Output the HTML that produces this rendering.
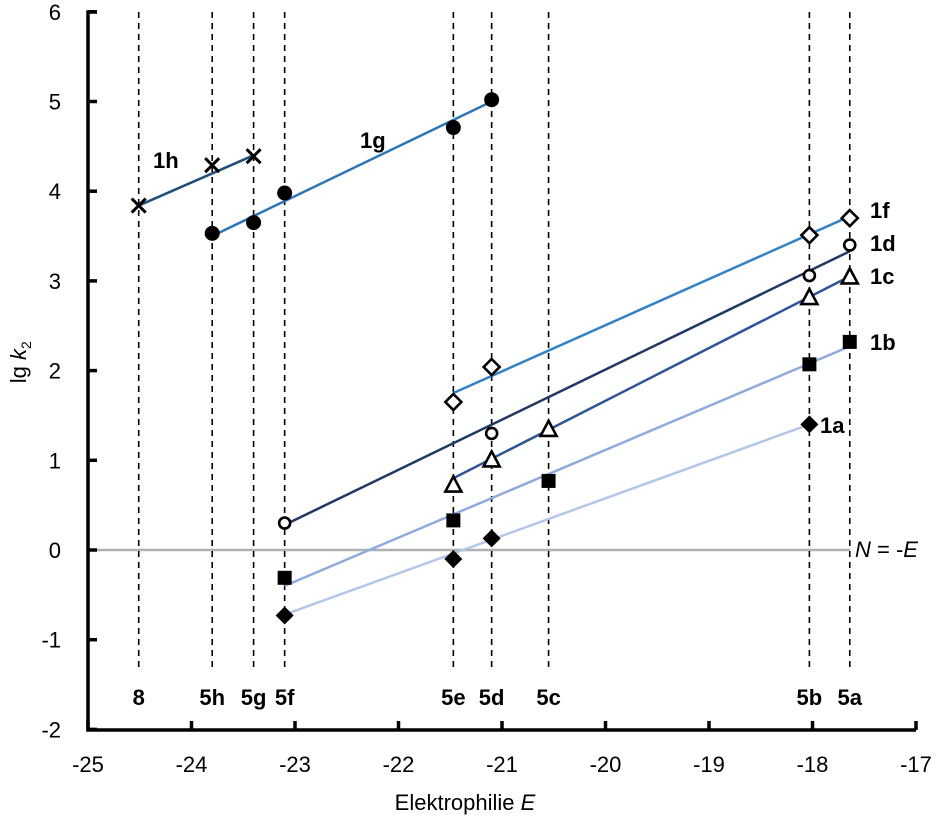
<!DOCTYPE html>
<html><head><meta charset="utf-8"><style>
html,body{margin:0;padding:0;background:#fff;}
svg{display:block;font-family:"Liberation Sans",Arial,sans-serif;}
</style></head><body>
<svg id="chart" width="942" height="825" viewBox="0 0 942 825" xmlns="http://www.w3.org/2000/svg">
<g id="grid"></g><g id="lines"></g><g id="marks"></g><g id="axes"></g><g id="labels"></g>
</svg>
<script>
const xTicks=[-25,-24,-23,-22,-21,-20,-19,-18,-17];
const yTicks=[-2,-1,0,1,2,3,4,5,6];
const electrophiles=['8','5h','5g','5f','5e','5d','5c','5b','5a'];
const electrophileE=[-24.51,-23.8,-23.4,-23.1,-21.47,-21.1,-20.55,-18.03,-17.64];
const seriesNames=['1h','1g','1f','1d','1c','1b','1a'];
const seriesColors=['#1f4e79','#2e75b6','#3382c4','#203864','#2f5597','#8faadc','#b4c7e7'];
const seriesMarker=['x','dot','odiamond','ocircle','otri','square','diamond'];
const s1hE=['8','5h','5g'], s1hV=[3.84,4.29,4.39];
const s1gE=['5h','5g','5f','5e','5d'], s1gV=[3.53,3.65,3.98,4.71,5.02];
const s1fE=['5e','5d','5b','5a'], s1fV=[1.65,2.04,3.51,3.70];
const s1dE=['5f','5d','5b','5a'], s1dV=[0.30,1.30,3.06,3.40];
const s1cE=['5e','5d','5c','5b','5a'], s1cV=[0.73,1.01,1.35,2.82,3.05];
const s1bE=['5f','5e','5c','5b','5a'], s1bV=[-0.31,0.33,0.77,2.07,2.32];
const s1aE=['5f','5e','5d','5b'], s1aV=[-0.73,-0.10,0.13,1.40];
const seriesE=[s1hE,s1gE,s1fE,s1dE,s1cE,s1bE,s1aE];
const seriesV=[s1hV,s1gV,s1fV,s1dV,s1cV,s1bV,s1aV];
// fitted line endpoints: [E1, lg1, E2, lg2]
const fitStart=[[-24.51,3.84],[-23.8,3.50],[-21.47,1.75],[-23.1,0.28],[-21.47,0.80],[-23.1,-0.40],[-23.1,-0.72]];
const fitEnd=[[-23.4,4.40],[-21.1,5.00],[-17.64,3.72],[-17.64,3.33],[-17.64,3.05],[-17.64,2.27],[-18.03,1.40]];

const NS='http://www.w3.org/2000/svg';
const X=e=>88+(e+25)*103.5;
const Y=v=>550-v*89.7;
function mk(parent,tag,attrs){const el=document.createElementNS(NS,tag);for(const k in attrs)el.setAttribute(k,attrs[k]);document.getElementById(parent).appendChild(el);return el;}
function eOf(n){return electrophileE[electrophiles.indexOf(n)];}

// zero line
let z=mk('grid','line',{x1:88,y1:Y(0),x2:850,y2:Y(0),stroke:'#b0b0b0','stroke-width':2.5});


// dashed electrophile lines + labels
electrophiles.forEach((n,i)=>{
 const x=X(electrophileE[i]);
 const l=mk('grid','line',{x1:x,y1:12,x2:x,y2:668,stroke:'#000','stroke-width':1.6,'stroke-dasharray':'6,5'});
 
 
 const t=mk('labels','text',{x:x,y:705,'text-anchor':'middle','font-size':22,'font-weight':'bold'});
 t.textContent=n;
 
 
});
// fit lines
seriesNames.forEach((n,i)=>{
 const l=mk('lines','line',{x1:X(fitStart[i][0]),y1:Y(fitStart[i][1]),x2:X(fitEnd[i][0]),y2:Y(fitEnd[i][1]),stroke:seriesColors[i],'stroke-width':2.5});
 
 
});
// markers
function marker(type,x,y){
 const g=mk('marks','g',{});
 const a=(t,o)=>{const e=document.createElementNS(NS,t);for(const k in o)e.setAttribute(k,o[k]);g.appendChild(e);};
 if(type==='x'){a('path',{d:`M${x-7} ${y-7}L${x+7} ${y+7}M${x-7} ${y+7}L${x+7} ${y-7}`,stroke:'#000','stroke-width':3});}
 else if(type==='dot'){a('circle',{cx:x,cy:y,r:7.5,fill:'#000'});}
 else if(type==='odiamond'){a('path',{d:`M${x} ${y-8}L${x+8} ${y}L${x} ${y+8}L${x-8} ${y}Z`,fill:'#fff',stroke:'#000','stroke-width':2.6});}
 else if(type==='diamond'){a('path',{d:`M${x} ${y-9}L${x+9} ${y}L${x} ${y+9}L${x-9} ${y}Z`,fill:'#000'});}
 else if(type==='ocircle'){a('circle',{cx:x,cy:y,r:5.5,fill:'#fff',stroke:'#000','stroke-width':2.6});}
 else if(type==='otri'){a('path',{d:`M${x} ${y-8}L${x+8} ${y+7}L${x-8} ${y+7}Z`,fill:'#fff',stroke:'#000','stroke-width':2.6});}
 else if(type==='square'){a('rect',{x:x-7,y:y-7,width:14,height:14,fill:'#000'});}
 return g;
}
seriesNames.forEach((n,i)=>{
 seriesE[i].forEach((en,j)=>{
  const g=marker(seriesMarker[i],X(eOf(en)),Y(seriesV[i][j]));
  
  
 });
});
// series labels
const labPos=[[153,168],[360,148],[870,218],[870,251],[870,284],[870,350],[820,433]];
seriesNames.forEach((n,i)=>{
 const t=mk('labels','text',{x:labPos[i][0],y:labPos[i][1],'font-size':22,'font-weight':'bold'});
 t.textContent=n;
 
 
});
// axes
let ax=mk('axes','path',{d:'M97 12H88V730H916',fill:'none',stroke:'#000','stroke-width':3.5});


xTicks.forEach(v=>{
 const x=X(v);
 const tk=mk('axes','line',{x1:x,y1:730,x2:x,y2:721,stroke:'#000','stroke-width':3.5});
 
 
 const t=mk('labels','text',{x:x,y:772,'text-anchor':'middle','font-size':22});
 t.textContent=v;
 
 
});
yTicks.forEach(v=>{
 const y=Y(v);
 const tk=mk('axes','line',{x1:88,y1:y,x2:97,y2:y,stroke:'#000','stroke-width':3.5});
 
 
 const t=mk('labels','text',{x:61,y:y+8,'text-anchor':'end','font-size':22});
 t.textContent=v;
 
 
});
</script>
<svg width="0" height="0" style="position:absolute"></svg>
<div style="position:absolute;left:0;top:0;width:942px;height:825px;pointer-events:none;font-family:'Liberation Sans',Arial,sans-serif;">
<div style="position:absolute;left:855px;top:537px;font-size:22px;font-style:italic;">N<span style="font-style:normal"> = -</span>E</div>
<div style="position:absolute;left:335px;top:790px;width:260px;text-align:center;font-size:22px;">Elektrophilie <i>E</i></div>
<div style="position:absolute;left:-20px;top:348px;width:80px;text-align:center;font-size:22px;transform:rotate(-90deg);">lg <i>k</i><sub style="font-size:14px">2</sub></div>
</div>
</body></html>
